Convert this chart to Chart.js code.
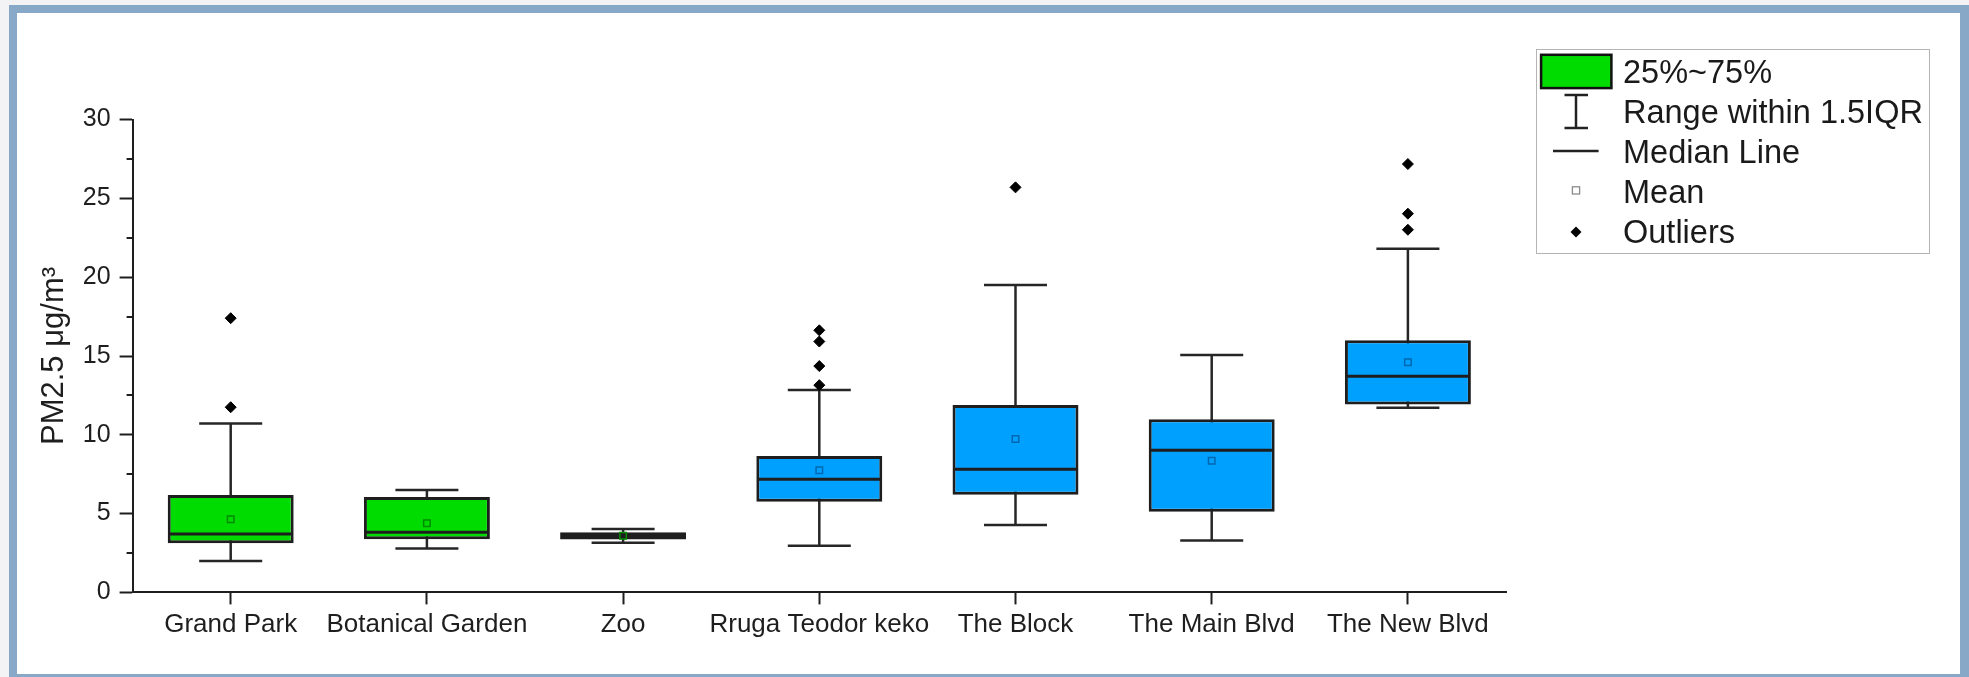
<!DOCTYPE html>
<html>
<head>
<meta charset="utf-8">
<script src="https://cdn.jsdelivr.net/npm/chart.js@4.4.1/dist/chart.umd.min.js"></script>
<style>
  html, body { margin: 0; padding: 0; }
  body {
    width: 1969px; height: 677px; overflow: hidden; position: relative;
    background: #f3f2f5;
    font-family: "Liberation Sans", Arial, sans-serif;
  }
  #frame {
    position: absolute; left: 9px; top: 5px; width: 1960px; height: 677px;
    box-sizing: border-box; background: #fff;
    border: 8px solid #87a8c6; border-right-width: 9px;
  }
  #c { position: absolute; left: 0; top: 0; }
  #legendBox {
    position: absolute; left: 1535.5px; top: 48.8px; width: 394px; height: 205px;
    box-sizing: border-box; border: 1.5px solid #b4b4b4;
  }
  #legendSym { position: absolute; left: 0; top: 0; }
  .lg {
    position: absolute; left: 1623px; font-size: 32.5px; line-height: 40px;
    color: #1a1a1a; white-space: nowrap;
  }
</style>
</head>
<body>
<div id="frame"></div>
<canvas id="c" width="1969" height="677"></canvas>
<div id="legendBox"></div>
<svg id="legendSym" width="1969" height="677" xmlns="http://www.w3.org/2000/svg">
  <rect x="1541.1" y="54.8" width="70.3" height="33.3" fill="#00dc00" stroke="#111" stroke-width="2.5"/>
  <g stroke="#222" stroke-width="2.5" fill="none">
    <line x1="1576" y1="95" x2="1576" y2="128"/>
    <line x1="1564.5" y1="95" x2="1588" y2="95"/>
    <line x1="1564.5" y1="128" x2="1588" y2="128"/>
    <line x1="1553" y1="151" x2="1598.6" y2="151"/>
  </g>
  <rect x="1572.4" y="186.8" width="7.2" height="7.2" fill="#fff" stroke="#8a8a8a" stroke-width="1.3"/>
  <polygon points="1576,226.4 1581.5,231.9 1576,237.4 1570.5,231.9" fill="#000"/>
</svg>
<div id="legendText"></div>
<script>
// Sampling sites along the x axis
const categories = ['Grand Park', 'Botanical Garden', 'Zoo', 'Rruga Teodor keko', 'The Block', 'The Main Blvd', 'The New Blvd'];
// Five-number summaries of PM2.5 per site (µg/m³)
const whiskerLow  = [2.0, 2.79, 3.15, 2.96, 4.28, 3.29, 11.72];
const q1          = [3.12, 3.37, 3.35, 5.75, 6.19, 5.12, 11.93];
const median      = [3.7, 3.81, 3.58, 7.18, 7.81, 9.02, 13.71];
const q3          = [6.18, 6.05, 3.81, 8.66, 11.89, 10.98, 16.0];
const whiskerHigh = [10.71, 6.49, 4.02, 12.85, 19.5, 15.07, 21.81];
const mean        = [4.64, 4.38, 3.6, 7.75, 9.73, 8.36, 14.6];
// Points beyond 1.5 IQR, per site
const outliers = [[17.4, 11.75], [], [], [16.63, 15.92, 14.36, 13.15], [25.7], [], [27.18, 24.03, 23.01]];
// Site groups: green parks, blue streets
const siteGroup = ['park', 'park', 'park', 'street', 'street', 'street', 'street'];
// Axis ticks
const yMajorTicks = [0, 5, 10, 15, 20, 25, 30];
const yMinorTicks = [2.5, 7.5, 12.5, 17.5, 22.5, 27.5];
// Legend entries
const legendLabels = ['25%~75%', 'Range within 1.5IQR', 'Median Line', 'Mean', 'Outliers'];

const groupFill = { park: '#00dc00', street: '#00a0ff' };
const groupEdge = { park: '#008a00', street: '#0068b0' };
const boxFill = siteGroup.map(g => groupFill[g]);
const meanEdge = siteGroup.map(g => groupEdge[g]);
const ink = '#1e1e1e';

// legend text
const lt = document.getElementById('legendText');
legendLabels.forEach((t, i) => {
  const d = document.createElement('div');
  d.className = 'lg';
  d.style.top = (51.6 + i * 40.1) + 'px';
  d.textContent = t;
  lt.appendChild(d);
});

const outlierPoints = [];
outliers.forEach((list, i) => list.forEach(v => outlierPoints.push({ x: categories[i], y: v })));

// short unlabeled ticks between the major ones on the y axis
const minorTickPlugin = {
  id: 'minorTicks',
  afterDraw(chart) {
    const ys = chart.scales.y;
    const ctx = chart.ctx;
    ctx.save();
    ctx.strokeStyle = ink;
    ctx.lineWidth = 2;
    ctx.beginPath();
    yMinorTicks.forEach(v => {
      const py = Math.round(ys.getPixelForValue(v));
      ctx.moveTo(ys.right - 6, py);
      ctx.lineTo(ys.right, py);
    });
    ctx.stroke();
    ctx.restore();
  }
};

Chart.defaults.font.family = '"Liberation Sans", Arial, sans-serif';
Chart.defaults.color = ink;

new Chart(document.getElementById('c'), {
  type: 'bar',
  data: {
    labels: categories,
    datasets: [
      {
        type: 'bar', label: 'stem', order: 6, grouped: false,
        data: categories.map((c, i) => [whiskerLow[i], whiskerHigh[i]]),
        backgroundColor: '#262626', borderWidth: 0, maxBarThickness: 2.5
      },
      {
        type: 'bar', label: 'box', order: 5, grouped: false,
        data: categories.map((c, i) => [q1[i], q3[i]]),
        backgroundColor: boxFill, borderColor: ink, borderWidth: 3, borderSkipped: false,
        barPercentage: 0.642, categoryPercentage: 1
      },
      {
        type: 'line', label: 'capHigh', order: 4, showLine: false, clip: false,
        data: whiskerHigh, pointStyle: 'line', pointRadius: 31.5,
        pointBorderWidth: 2.5, pointBorderColor: '#262626'
      },
      {
        type: 'line', label: 'capLow', order: 4, showLine: false, clip: false,
        data: whiskerLow, pointStyle: 'line', pointRadius: 31.5,
        pointBorderWidth: 2.5, pointBorderColor: '#262626'
      },
      {
        type: 'line', label: 'median', order: 3, showLine: false, clip: false,
        data: median, pointStyle: 'line', pointRadius: 62,
        pointBorderWidth: 3, pointBorderColor: ink
      },
      {
        type: 'line', label: 'mean', order: 2, showLine: false, clip: false,
        data: mean, pointStyle: 'rect', pointRadius: 4.6,
        pointBackgroundColor: 'rgba(0,0,0,0)', pointBorderColor: meanEdge, pointBorderWidth: 1.5
      },
      {
        type: 'line', label: 'outliers', order: 1, showLine: false, clip: false,
        data: outlierPoints, pointStyle: 'rectRot', pointRadius: 5.5,
        pointBackgroundColor: '#000', pointBorderColor: '#000', pointBorderWidth: 1
      }
    ]
  },
  options: {
    responsive: false,
    animation: false,
    events: [],
    devicePixelRatio: 1,
    layout: { padding: { left: 0, top: 119.6, right: 463, bottom: 0 } },
    plugins: { legend: { display: false }, tooltip: { enabled: false } },
    scales: {
      x: {
        type: 'category', offset: true,
        grid: { drawOnChartArea: false, drawTicks: true, tickLength: 12, tickWidth: 2, tickColor: ink, offset: false },
        border: { display: true, color: ink, width: 2 },
        ticks: { font: { size: 26 }, color: ink, padding: 5, maxRotation: 0, minRotation: 0, autoSkip: false },
        afterFit(s) { s.height = 84.6; }
      },
      y: {
        min: 0, max: 30,
        afterBuildTicks(s) { s.ticks = yMajorTicks.map(v => ({ value: v })); },
        grid: { drawOnChartArea: false, drawTicks: true, tickLength: 13, tickWidth: 2, tickColor: ink },
        border: { display: true, color: ink, width: 2 },
        ticks: { font: { size: 25 }, color: ink, padding: 9 },
        title: { display: true, text: 'PM2.5 μg/m³', font: { size: 31 }, color: ink, padding: { top: 36, bottom: 0 } },
        afterFit(s) { s.width = 132.6; }
      }
    }
  },
  plugins: [minorTickPlugin]
});
</script>
</body>
</html>
